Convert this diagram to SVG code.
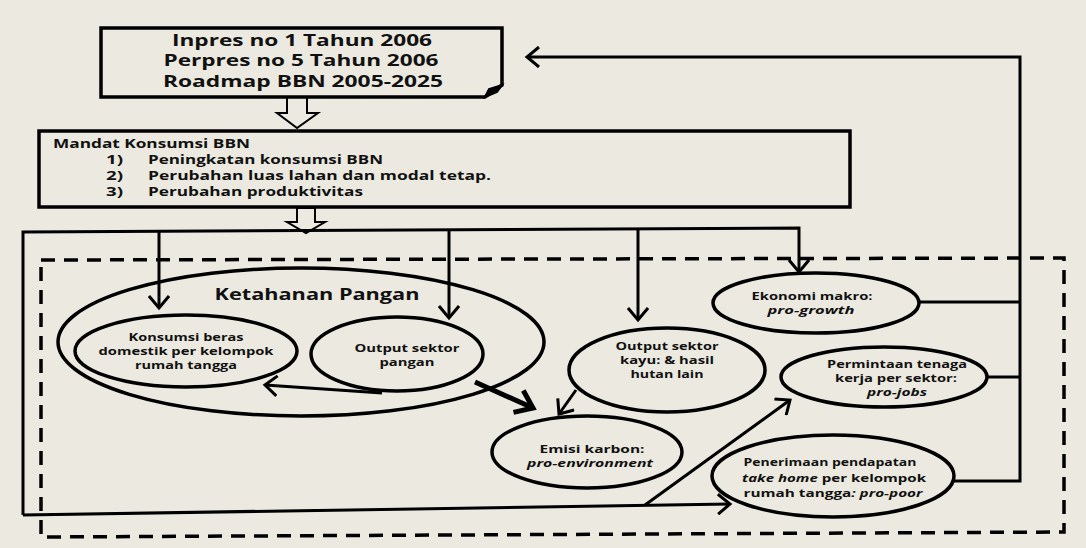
<svg xmlns="http://www.w3.org/2000/svg" width="1086" height="548" viewBox="0 0 1086 548">
<style>
text{font-family:"Open Sans","Liberation Sans",sans-serif;font-weight:bold;fill:#111}
.node{fill:none;stroke:#000;stroke-width:3.5}
.c{fill:none;stroke:#000;stroke-width:3}
.s{font-size:10.5px;text-anchor:middle}
.t{font-size:16px;text-anchor:middle}
.m{font-size:12px}
.i{font-style:italic}
</style>
<defs>
<marker id="ah" markerUnits="userSpaceOnUse" viewBox="0 0 16 22" refX="13" refY="11" markerWidth="16" markerHeight="22" orient="auto">
<path d="M1,1 L13,11 L1,21" fill="none" stroke="#000" stroke-width="3"/>
</marker>
<marker id="ahb" markerUnits="userSpaceOnUse" viewBox="0 0 22 28" refX="18" refY="14" markerWidth="22" markerHeight="28" orient="auto">
<path d="M2,2 L18,14 L2,26" fill="none" stroke="#000" stroke-width="5"/>
</marker>
</defs>
<rect width="1086" height="548" fill="#ECEAE0"/>

<g id="frame">
<path d="M41,260 L1064,258 L1064,532 L41,537 Z" fill="none" stroke="#000" stroke-width="3.5" stroke-dasharray="14 9"/>
</g>

<g id="regulasi">
<path class="node" d="M101,28 H502 V85 L485,97 H101 Z"/>
<path d="M485,97 L489,89 L502,85 L497,92 Z" fill="#000" stroke="#000" stroke-width="2"/>
<text class="t" x="302" y="46" textLength="260" lengthAdjust="spacingAndGlyphs">Inpres no 1 Tahun 2006</text>
<text class="t" x="301" y="66" textLength="275" lengthAdjust="spacingAndGlyphs">Perpres no 5 Tahun 2006</text>
<text class="t" x="303" y="87" textLength="280" lengthAdjust="spacingAndGlyphs">Roadmap BBN 2005-2025</text>
</g>

<g id="mandat">
<rect class="node" x="39" y="131" width="811" height="76"/>
<text class="m" x="53" y="148" textLength="197" lengthAdjust="spacingAndGlyphs">Mandat Konsumsi BBN</text>
<text class="m" x="106" y="164" textLength="17" lengthAdjust="spacingAndGlyphs">1)</text>
<text class="m" x="148" y="164" textLength="235" lengthAdjust="spacingAndGlyphs">Peningkatan konsumsi BBN</text>
<text class="m" x="106" y="180" textLength="17" lengthAdjust="spacingAndGlyphs">2)</text>
<text class="m" x="148" y="180" textLength="343" lengthAdjust="spacingAndGlyphs">Perubahan luas lahan dan modal tetap.</text>
<text class="m" x="106" y="196" textLength="17" lengthAdjust="spacingAndGlyphs">3)</text>
<text class="m" x="148" y="196" textLength="215" lengthAdjust="spacingAndGlyphs">Perubahan produktivitas</text>
</g>

<g id="ketahanan">
<ellipse class="node" cx="301" cy="342" rx="243" ry="74"/>
<text class="t" x="317" y="300" textLength="205" lengthAdjust="spacingAndGlyphs">Ketahanan Pangan</text>
</g>

<g id="konsumsi">
<ellipse class="node" cx="186" cy="351" rx="111" ry="36"/>
<text class="s" x="186" y="341" textLength="115" lengthAdjust="spacingAndGlyphs">Konsumsi beras</text>
<text class="s" x="186" y="355" textLength="175" lengthAdjust="spacingAndGlyphs">domestik per kelompok</text>
<text class="s" x="186" y="369" textLength="102" lengthAdjust="spacingAndGlyphs">rumah tangga</text>
</g>

<g id="pangan">
<ellipse class="node" cx="397" cy="354" rx="86" ry="37"/>
<text class="s" x="407" y="352" textLength="105" lengthAdjust="spacingAndGlyphs">Output sektor</text>
<text class="s" x="407" y="366" textLength="55" lengthAdjust="spacingAndGlyphs">pangan</text>
</g>

<g id="kayu">
<ellipse class="node" cx="667" cy="370" rx="98" ry="42"/>
<text class="s" x="667" y="350" textLength="103" lengthAdjust="spacingAndGlyphs">Output sektor</text>
<text class="s" x="667" y="364" textLength="94" lengthAdjust="spacingAndGlyphs">kayu: &amp; hasil</text>
<text class="s" x="667" y="378" textLength="73" lengthAdjust="spacingAndGlyphs">hutan lain</text>
</g>

<g id="emisi">
<ellipse class="node" cx="587" cy="452" rx="95" ry="36"/>
<text class="s" x="592" y="453" textLength="105" lengthAdjust="spacingAndGlyphs">Emisi karbon:</text>
<text class="s i" x="590" y="467" textLength="126" lengthAdjust="spacingAndGlyphs">pro-environment</text>
</g>

<g id="ekonomi">
<ellipse class="node" cx="816" cy="303" rx="103" ry="30"/>
<text class="s" x="812" y="300" textLength="121" lengthAdjust="spacingAndGlyphs">Ekonomi makro:</text>
<text class="s i" x="811" y="314" textLength="87" lengthAdjust="spacingAndGlyphs">pro-growth</text>
</g>

<g id="permintaan">
<ellipse class="node" cx="884" cy="377" rx="103" ry="30"/>
<text class="s" x="897" y="368" textLength="140" lengthAdjust="spacingAndGlyphs">Permintaan tenaga</text>
<text class="s" x="896" y="382" textLength="122" lengthAdjust="spacingAndGlyphs">kerja per sektor:</text>
<text class="s i" x="897" y="396" textLength="60" lengthAdjust="spacingAndGlyphs">pro-jobs</text>
</g>

<g id="penerimaan">
<ellipse class="node" cx="833" cy="476" rx="121" ry="41"/>
<text class="s" x="830" y="466" textLength="173" lengthAdjust="spacingAndGlyphs">Penerimaan pendapatan</text>
<text class="s" x="834" y="482" textLength="184" lengthAdjust="spacingAndGlyphs"><tspan class="i">take home</tspan> per kelompok</text>
<text class="s" x="833" y="497" textLength="179" lengthAdjust="spacingAndGlyphs">rumah tangga<tspan class="i">: pro-poor</tspan></text>
</g>

<g id="connectors">
<polygon points="287,97 307,97 307,113 318,113 297,128 277,113 287,113" fill="none" stroke="#000" stroke-width="2"/>
<polygon points="297,208 315,208 315,222 325,222 306,233 287,222 297,222" fill="none" stroke="#000" stroke-width="2"/>
<polyline class="c" points="23,515 23,232 799,228 799,272" marker-end="url(#ah)"/>
<line class="c" x1="159" y1="231" x2="159" y2="308" marker-end="url(#ah)"/>
<line class="c" x1="449" y1="230" x2="449" y2="318" marker-end="url(#ah)"/>
<line class="c" x1="638" y1="229" x2="638" y2="320" marker-end="url(#ah)"/>
<polyline class="c" points="23,515 730,504" marker-end="url(#ah)"/>
<line class="c" x1="645" y1="505" x2="790" y2="400" marker-end="url(#ah)"/>
<line class="c" x1="382" y1="393" x2="265" y2="385" marker-end="url(#ah)"/>
<line x1="475" y1="382" x2="533" y2="408" stroke="#000" stroke-width="5" marker-end="url(#ahb)"/>
<line class="c" x1="576" y1="390" x2="559" y2="414" marker-end="url(#ah)"/>
<polyline class="c" points="954,481 1020,481 1020,57 527,57" marker-end="url(#ah)"/>
<line class="c" x1="919" y1="302" x2="1020" y2="302"/>
<line class="c" x1="988" y1="377" x2="1020" y2="377"/>
</g>
</svg>
